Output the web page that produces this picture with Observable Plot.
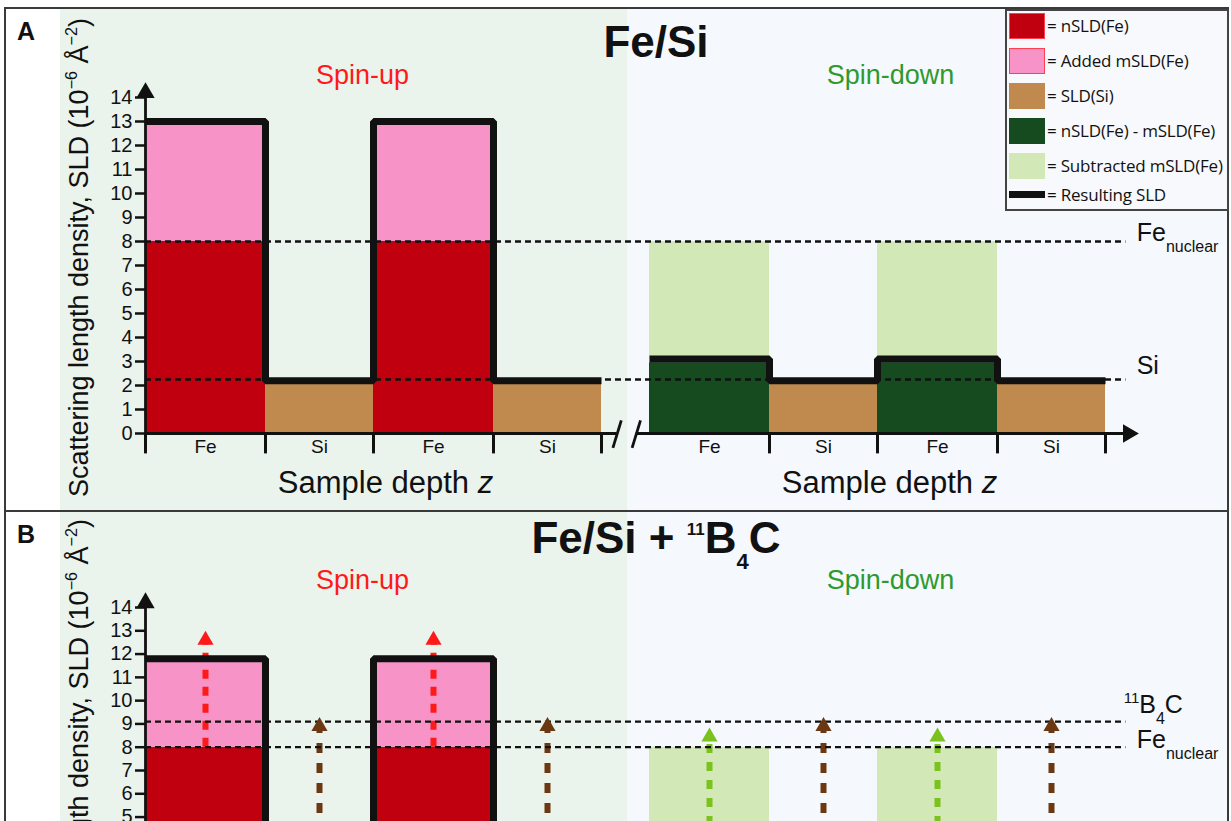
<!DOCTYPE html>
<html>
<head>
<meta charset="utf-8">
<script src="https://cdn.jsdelivr.net/npm/d3@7"></script>
<script src="https://cdn.jsdelivr.net/npm/@observablehq/plot@0.6"></script>
<style>
  html, body { margin: 0; padding: 0; background: #fff; }
  body { position: relative; width: 1231px; height: 821px; overflow: hidden; font-family: "Liberation Sans", Arial, sans-serif; color: #111; }
  .panel { position: absolute; left: 0; width: 1231px; overflow: hidden;
    background: linear-gradient(to right, #fff 0 60px, #ebf4ec 60px 627px, #f5f8fc 627px 1228px, #fff 1228px); }
  .panel svg { position: absolute; left: 0; top: 0; }
  .frame { position: absolute; background: #3a3a3a; }
  .letter { position: absolute; font-weight: bold; font-size: 25px; line-height: 25px; }
  .title { position: absolute; font-weight: bold; line-height: 1; transform: translateX(-50%); white-space: nowrap; }
  .title .sup { font-size: 17px; position: relative; top: -18px; }
  .title .sub { font-size: 22px; position: relative; top: 16px; }
  #legend { position: absolute; left: 1005px; top: 9px; width: 220px; height: 198px; border: 2px solid #444; background: #f7f9fc; }
  #legend .sw { position: absolute; left: 2px; width: 36px; }
  #legend .lab { position: absolute; left: 40px; font-family: "Open Sans", sans-serif; font-size: 17px; line-height: 20px; white-space: nowrap; color: #111; letter-spacing: -0.2px; }
</style>
</head>
<body>
<div id="pA" class="panel" style="top:8px;height:502px"></div>
<div id="pB" class="panel" style="top:512px;height:309px"></div>
<div class="frame" style="left:4px;top:7px;width:1225px;height:2px"></div>
<div class="frame" style="left:4px;top:7px;width:2px;height:814px"></div>
<div class="frame" style="left:1227px;top:7px;width:2px;height:814px"></div>
<div class="frame" style="left:4px;top:510px;width:1225px;height:2px"></div>
<div class="letter" style="left:17px;top:19px">A</div>
<div class="title" style="left:656px;top:20px;font-size:44px">Fe/Si</div>
<div class="letter" style="left:17px;top:522px">B</div>
<div class="title" style="left:656px;top:516px;font-size:44px">Fe/Si + <span class="sup">11</span>B<span class="sub">4</span>C</div>
<div id="legend"></div>
<script>
// ---------------- data ----------------
const layers = ["Fe", "Si", "Fe", "Si"];
const thickness = [1.0, 0.9, 1.0, 0.9];
const sections = ["Spin-up", "Spin-down"];
const sectionStart = [0, 4.2];
const yTicks = [0, 1, 2, 3, 4, 5, 6, 7, 8, 9, 10, 11, 12, 13, 14];
const yLabel = "Scattering length density, SLD (10^{−6} Å^{−2})";
const xLabel = "Sample depth ~{z}";

const legendKeys = ["nSLD(Fe)", "Added mSLD(Fe)", "SLD(Si)", "nSLD(Fe) - mSLD(Fe)", "Subtracted mSLD(Fe)", "Resulting SLD"];
const legendColors = ["#c1000f", "#f793c7", "#c08a4f", "#164b1f", "#d2e9b7", "#111111"];

// Panel A (10^-6 Å^-2)
const fillsAUp = { Fe: [["nSLD(Fe)", 0, 8.0], ["Added mSLD(Fe)", 8.0, 12.85]], Si: [["SLD(Si)", 0, 2.05]] };
const fillsADown = { Fe: [["nSLD(Fe) - mSLD(Fe)", 0, 2.95], ["Subtracted mSLD(Fe)", 3.0, 8.0]], Si: [["SLD(Si)", 0, 2.05]] };
const resultAUp = [13.0, 2.2, 13.0, 2.2];
const resultADown = [3.1, 2.2, 3.1, 2.2];
const refsA = [["Fe_{nuclear}", 8.0], ["Si", 2.25]];

// Panel B
const fillsBUp = { Fe: [["nSLD(Fe)", 0, 8.0], ["Added mSLD(Fe)", 8.0, 11.65]], Si: [["SLD(Si)", 0, 2.05]] };
const fillsBDown = { Fe: [["nSLD(Fe) - mSLD(Fe)", 0, 2.95], ["Subtracted mSLD(Fe)", 3.0, 8.0]], Si: [["SLD(Si)", 0, 2.05]] };
const resultBUp = [11.8, 2.2, 11.8, 2.2];
const resultBDown = [3.1, 2.2, 3.1, 2.2];
const refsB = [["^{11}B_{4}C", 9.1], ["Fe_{nuclear}", 8.0]];
const arrowsBUp = { Fe: ["mag", 8.0, 13.0], Si: ["b4c", 0, 9.3] };
const arrowsBDown = { Fe: ["magDown", 0, 8.85], Si: ["b4c", 0, 9.3] };
const arrowKinds = ["mag", "b4c", "magDown"];

// ---------------- styling / layout ----------------
const spinColors = ["#ff1a1a", "#2e9a2e"];
const arrowColors = { mag: "#ff1a1a", b4c: "#6b3812", magDown: "#7cc21e" };
const arrowDash = { mag: "9,8", b4c: "10,10", magDown: "9,9" };
const axisExtent = { yTop: 14.2, xSegments: [[0, 3.93], [4.09, 8.19]], breaks: [3.93, 4.09], dashEnd: 8.17, refX: 8.26 };

const layoutA = { el: "pA", height: 502, marginTop: 89, marginBottom: 77, spinDy: -14, labelDy: -8, refDx: [0, 0], refDy: [-1, -6], tickMin: 0, xAxisText: true };
const layoutB = { el: "pB", height: 480, marginTop: 95, marginBottom: 59, spinDy: -19, labelDy: -12, refDx: [-13, 0], refDy: [-9, 1], tickMin: 5, xAxisText: false };

function richify(root) {
  root.querySelectorAll("text").forEach(t => {
    const s = t.textContent;
    if (!/[\^_~]\{/.test(s)) return;
    const fs = parseFloat(getComputedStyle(t).fontSize);
    t.textContent = "";
    const re = /([\^_~])\{([^}]*)\}|([^\^_~]+)/g;
    let m;
    while ((m = re.exec(s))) {
      const sp = document.createElementNS("http://www.w3.org/2000/svg", "tspan");
      if (m[3] != null) sp.textContent = m[3];
      else {
        sp.textContent = m[2];
        if (m[1] === "^") { sp.setAttribute("font-size", fs * 0.6); sp.setAttribute("baseline-shift", fs * 0.42); }
        else if (m[1] === "_") { sp.setAttribute("font-size", fs * 0.64); sp.setAttribute("baseline-shift", -fs * 0.45); }
        else sp.setAttribute("font-style", "italic");
      }
      t.appendChild(sp);
    }
  });
}

function draw(cfg, lay) {
  const rects = [], steps = [], tickX = [], layerLabels = [], arrows = [];
  sections.forEach((sec, s) => {
    let x = sectionStart[s];
    if (s === 0) tickX.push(x);
    layers.forEach((L, i) => {
      const x1 = x, x2 = x + thickness[i];
      for (const [k, y1, y2] of cfg.fills[s][L]) rects.push({ k, x1, x2, y1, y2 });
      steps.push({ s, x: x1, y: cfg.result[s][i] });
      layerLabels.push({ x: (x1 + x2) / 2, text: L });
      if (cfg.arrows) { const [kind, y1, y2] = cfg.arrows[s][L]; arrows.push({ kind, x: (x1 + x2) / 2, y1, y2 }); }
      tickX.push(x2);
      x = x2;
    });
    steps.push({ s, x, y: cfg.result[s][layers.length - 1] });
  });
  const total = d3.sum(thickness);
  const sectionMid = sectionStart.map(s0 => s0 + total / 2);
  const spinDx = [-11, 13];

  const marks = [
    Plot.rect(rects, { x1: "x1", x2: "x2", y1: "y1", y2: "y2", fill: "k" }),
    ...arrowKinds.map(kind => Plot.ruleX(arrows.filter(a => a.kind === kind), {
      x: "x", y1: "y1", y2: d => d.y2 - 0.45, stroke: arrowColors[kind], strokeWidth: 6, strokeDasharray: arrowDash[kind]
    })),
    Plot.ruleY(cfg.refs, { y: d => d[1], x1: () => 0, x2: () => axisExtent.dashEnd, stroke: "#111", strokeWidth: 2.3, strokeDasharray: "6,4" }),
    Plot.line(steps, { x: "x", y: "y", z: "s", curve: "step-after", stroke: "#111", strokeWidth: 7, strokeLinejoin: "miter", strokeLinecap: "butt" }),
    ...arrowKinds.map(kind => Plot.dot(arrows.filter(a => a.kind === kind), {
      x: "x", y: "y2", dy: 9.3, symbol: "triangle", r: 6, fill: arrowColors[kind]
    })),
    // y axis
    Plot.ruleX([0], { x: d => d, y1: () => 0, y2: () => axisExtent.yTop, stroke: "#111", strokeWidth: 2.8 }),
    Plot.dot([axisExtent.yTop], { x: () => 0, y: d => d, symbol: "triangle", r: 6.8, fill: "#111" }),
    Plot.axisY(yTicks.filter(t => t >= lay.tickMin), { anchor: "left", tickSize: 10, tickPadding: 3, fontSize: 20, strokeWidth: 2.5, label: null, tickFormat: d => d }),
    // x axis
    Plot.ruleY(axisExtent.xSegments, { y: () => 0, x1: d => d[0], x2: d => d[1], stroke: "#111", strokeWidth: 2.8 }),
    Plot.dot([axisExtent.xSegments[1][1]], { x: d => d, y: () => 0, symbol: "triangle", rotate: 90, r: 6.8, fill: "#111" }),
    Plot.link(axisExtent.breaks, { x1: d => d - 0.035, x2: d => d + 0.035, y1: () => -0.6, y2: () => 0.55, stroke: "#111", strokeWidth: 2.8 }),
    Plot.ruleX(tickX, { x: d => d, y1: () => 0, y2: () => -0.85, stroke: "#111", strokeWidth: 3 }),
    ...(lay.xAxisText ? [
      Plot.text(layerLabels, { x: "x", y: () => 0, text: "text", lineAnchor: "top", dy: 6, fontSize: 19, fill: "#111" }),
      Plot.text(sectionMid, { x: d => d, y: () => 0, text: () => xLabel, lineAnchor: "top", dy: 37, dx: 12, fontSize: 31, fill: "#111" })
    ] : []),
    ...sections.map((sec, s) => Plot.text([sec], {
      x: () => sectionMid[s], frameAnchor: "top", text: d => d, lineAnchor: "bottom", dy: lay.spinDy, dx: spinDx[s], fontSize: 27, fill: spinColors[s]
    })),
    ...cfg.refs.map((r, i) => Plot.text([r], {
      x: () => axisExtent.refX, y: d => d[1], text: d => d[0], textAnchor: "start", lineAnchor: "bottom",
      dx: lay.refDx[i], dy: lay.refDy[i], fontSize: 25, fill: "#111"
    })),
    Plot.text([yLabel], { frameAnchor: "left", text: d => d, textAnchor: "middle", lineAnchor: "middle", rotate: -90, dx: -66, dy: lay.labelDy, fontSize: 27, fill: "#111" })
  ];

  const plot = Plot.plot({
    width: 1231, height: lay.height,
    marginLeft: 145, marginRight: 6, marginTop: lay.marginTop, marginBottom: lay.marginBottom,
    x: { domain: [0, 9], axis: null },
    y: { domain: [0, 14], axis: null },
    color: { domain: legendKeys, range: legendColors },
    style: { background: "transparent", overflow: "visible", fontFamily: "'Liberation Sans', Arial, sans-serif", color: "#111" },
    marks
  });
  document.getElementById(lay.el).appendChild(plot);
  richify(plot);
}

draw({ fills: [fillsAUp, fillsADown], result: [resultAUp, resultADown], refs: refsA }, layoutA);
draw({ fills: [fillsBUp, fillsBDown], result: [resultBUp, resultBDown], refs: refsB, arrows: [arrowsBUp, arrowsBDown] }, layoutB);

// legend
const legend = document.getElementById("legend");
const rowTop = [2, 37, 72, 107, 142, 180];
legendKeys.forEach((k, i) => {
  const last = i === legendKeys.length - 1;
  const sw = document.createElement("div");
  sw.className = "sw";
  sw.style.top = rowTop[i] + "px";
  sw.style.height = (last ? 7 : 26) + "px";
  sw.style.background = legendColors[i];
  if (i < 2) { sw.style.boxSizing = "border-box"; sw.style.border = "1px solid #ff4050"; }
  legend.appendChild(sw);
  const lab = document.createElement("div");
  lab.className = "lab";
  lab.style.top = (rowTop[i] + (last ? 3.5 : 13) - 10) + "px";
  lab.textContent = "= " + k;
  legend.appendChild(lab);
});
</script>
</body>
</html>
